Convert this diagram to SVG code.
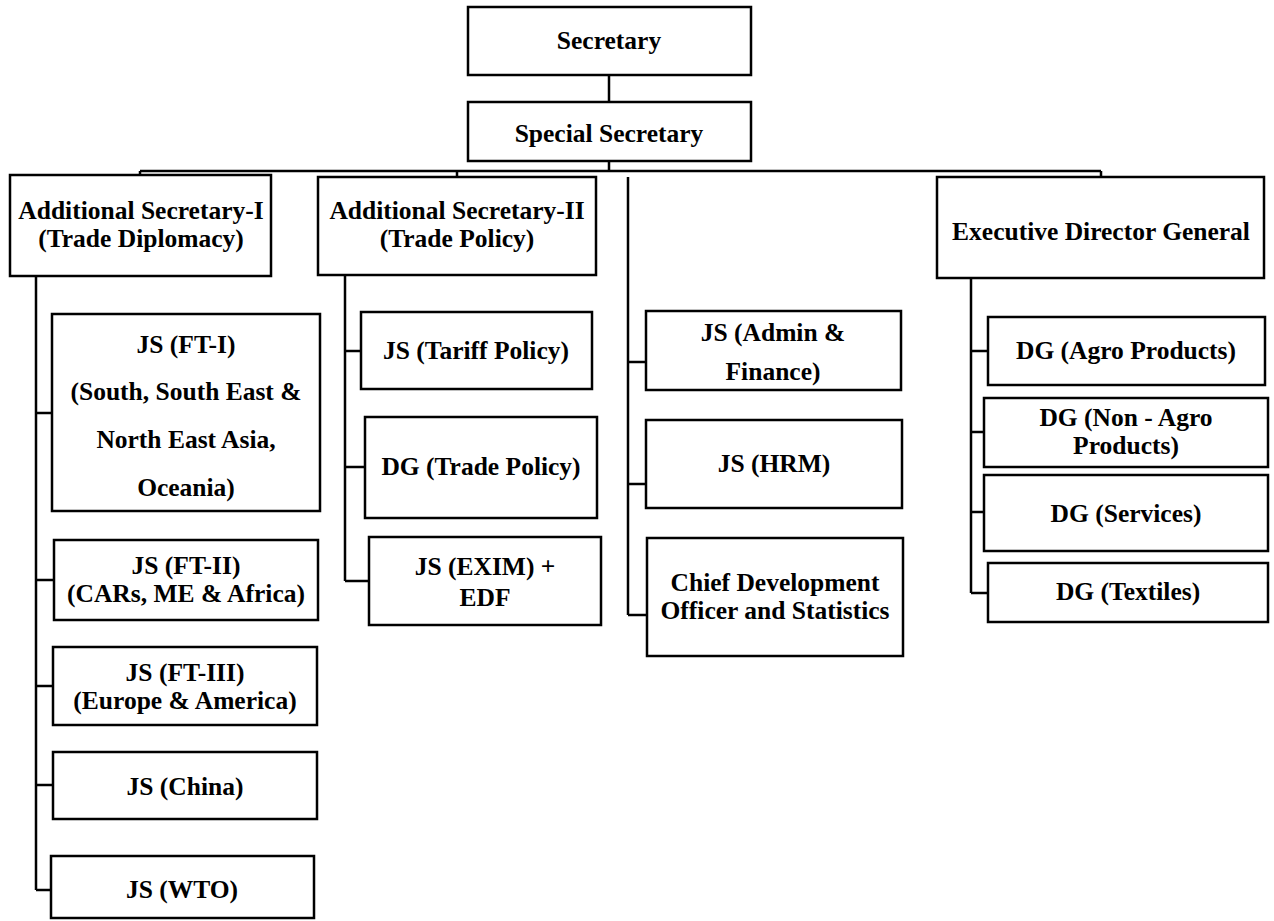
<svg xmlns="http://www.w3.org/2000/svg" width="1274" height="921" viewBox="0 0 1274 921">
<style>
.box{fill:#fff;stroke:#000;stroke-width:2.5}
.t{font-family:"Liberation Serif","Times New Roman",serif;font-weight:bold;font-size:25.5px;fill:#000;text-anchor:middle}
.c{fill:none;stroke:#000;stroke-width:2.5}
</style>
<rect width="1274" height="921" fill="#fff"/>
<g id="connectors">
<path class="c" d="M609,75 V102"/>
<path class="c" d="M609,161 V171 M140,171 H1101 M140,171 V175 M457,171 V177 M1101,171 V177"/>
<path class="c" d="M36,276 V890 M36,413 H52 M36,580 H54 M36,686 H53 M36,785 H53 M36,890 H51"/>
<path class="c" d="M345,275 V581 M345,351 H361 M345,467 H365 M345,581 H369"/>
<path class="c" d="M628,177 V615 M628,362 H646 M628,484 H646 M628,615 H647"/>
<path class="c" d="M971,278 V593 M971,351 H988 M971,432 H984 M971,512 H984 M971,593 H988"/>
</g>
<g id="secretary"><rect class="box" x="468" y="7" width="283" height="68"/><text class="t" x="609" y="49">Secretary</text></g>
<g id="special-secretary"><rect class="box" x="468" y="102" width="283" height="59"/><text class="t" x="609" y="142">Special Secretary</text></g>
<g id="as1"><rect class="box" x="10" y="175" width="261" height="101"/><text class="t" x="141" y="219">Additional Secretary-I</text><text class="t" x="141" y="247">(Trade Diplomacy)</text></g>
<g id="as2"><rect class="box" x="318" y="177" width="278" height="98"/><text class="t" x="457" y="219">Additional Secretary-II</text><text class="t" x="457" y="247">(Trade Policy)</text></g>
<g id="edg"><rect class="box" x="937" y="177" width="327" height="101"/><text class="t" x="1101" y="240">Executive Director General</text></g>
<g id="js-ft1"><rect class="box" x="52" y="314" width="268" height="197"/><text class="t" x="186" y="353">JS (FT-I)</text><text class="t" x="186" y="400">(South, South East &amp;</text><text class="t" x="186" y="448">North East Asia,</text><text class="t" x="186" y="496">Oceania)</text></g>
<g id="js-ft2"><rect class="box" x="54" y="540" width="264" height="80"/><text class="t" x="186" y="574">JS (FT-II)</text><text class="t" x="186" y="602">(CARs, ME &amp; Africa)</text></g>
<g id="js-ft3"><rect class="box" x="53" y="647" width="264" height="78"/><text class="t" x="185" y="681">JS (FT-III)</text><text class="t" x="185" y="709">(Europe &amp; America)</text></g>
<g id="js-china"><rect class="box" x="53" y="752" width="264" height="67"/><text class="t" x="185" y="795">JS (China)</text></g>
<g id="js-wto"><rect class="box" x="51" y="856" width="263" height="62"/><text class="t" x="182" y="898">JS (WTO)</text></g>
<g id="js-tariff"><rect class="box" x="361" y="312" width="231" height="77"/><text class="t" x="476" y="359">JS (Tariff Policy)</text></g>
<g id="dg-trade-policy"><rect class="box" x="365" y="417" width="232" height="101"/><text class="t" x="481" y="475">DG (Trade Policy)</text></g>
<g id="js-exim"><rect class="box" x="369" y="537" width="232" height="88"/><text class="t" x="485" y="575">JS (EXIM) +</text><text class="t" x="485" y="606">EDF</text></g>
<g id="js-admin"><rect class="box" x="646" y="311" width="255" height="79"/><text class="t" x="773" y="341">JS (Admin &amp;</text><text class="t" x="773" y="380">Finance)</text></g>
<g id="js-hrm"><rect class="box" x="646" y="420" width="256" height="88"/><text class="t" x="774" y="472">JS (HRM)</text></g>
<g id="cdo"><rect class="box" x="647" y="538" width="256" height="118"/><text class="t" x="775" y="591">Chief Development</text><text class="t" x="775" y="619">Officer and Statistics</text></g>
<g id="dg-agro"><rect class="box" x="988" y="317" width="277" height="68"/><text class="t" x="1126" y="359">DG (Agro Products)</text></g>
<g id="dg-nonagro"><rect class="box" x="984" y="398" width="284" height="69"/><text class="t" x="1126" y="426">DG (Non - Agro</text><text class="t" x="1126" y="454">Products)</text></g>
<g id="dg-services"><rect class="box" x="984" y="475" width="284" height="76"/><text class="t" x="1126" y="522">DG (Services)</text></g>
<g id="dg-textiles"><rect class="box" x="988" y="563" width="280" height="59"/><text class="t" x="1128" y="600">DG (Textiles)</text></g>
</svg>
